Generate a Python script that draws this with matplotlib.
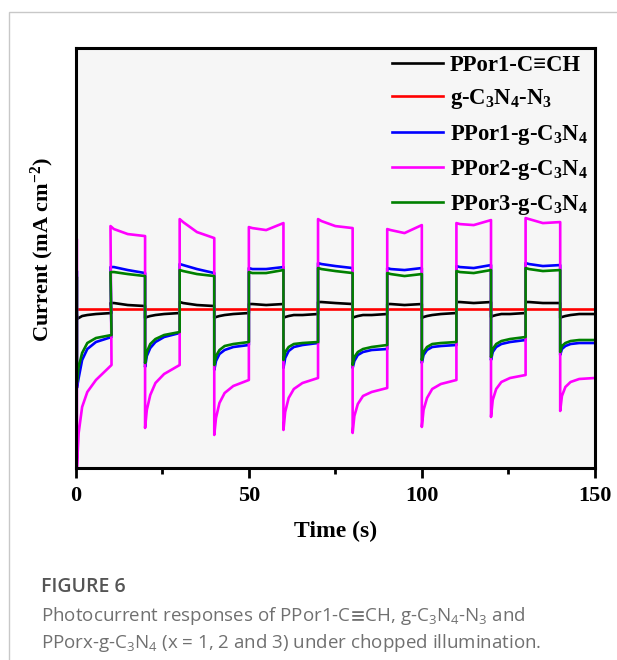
import matplotlib
matplotlib.use('Agg')
import matplotlib.pyplot as plt
from matplotlib.patches import Rectangle
from matplotlib.ticker import MultipleLocator

plt.rcParams['font.family'] = ['Liberation Serif', 'DejaVu Serif']
plt.rcParams['font.weight'] = 'bold'
plt.rcParams['mathtext.fontset'] = 'custom'
plt.rcParams['mathtext.rm'] = 'Liberation Serif:bold'
plt.rcParams['mathtext.it'] = 'Liberation Serif:bold'
plt.rcParams['mathtext.bf'] = 'Liberation Serif:bold'
plt.rcParams['mathtext.sf'] = 'Open Sans:weight=normal'
plt.rcParams['mathtext.fallback'] = 'stixsans'

# chopped light: dark periods start at off_starts, light periods at on_starts
off_starts = [0.3, 20, 40, 60, 80, 100, 120, 140]
on_starts = [10, 30, 50, 70, 90, 110, 130]
off_offsets = [0, 0.5, 1.5, 3, 5.5, 10]
on_offsets = [0, 1, 5, 10]

labels = ['PPor1-C≡CH', 'g-C$_3$N$_4$-N$_3$', 'PPor1-g-C$_3$N$_4$',
          'PPor2-g-C$_3$N$_4$', 'PPor3-g-C$_3$N$_4$']
colors = ['black', '#ff0000', '#0000ff', '#ff00ff', '#008000']

# PPor1-C≡CH
black_first = 1.52
black_off = [[1.49, 1.50, 1.52, 1.53, 1.54, 1.55],
             [1.50, 1.51, 1.52, 1.53, 1.54, 1.55],
             [1.50, 1.51, 1.52, 1.53, 1.54, 1.55],
             [1.50, 1.51, 1.52, 1.53, 1.53, 1.54],
             [1.50, 1.51, 1.52, 1.53, 1.53, 1.54],
             [1.50, 1.51, 1.52, 1.53, 1.54, 1.55],
             [1.51, 1.52, 1.53, 1.54, 1.54, 1.55],
             [1.50, 1.51, 1.52, 1.53, 1.54, 1.54]]
black_on = [[1.65, 1.65, 1.63, 1.62],
            [1.66, 1.65, 1.63, 1.62],
            [1.64, 1.64, 1.63, 1.64],
            [1.66, 1.66, 1.65, 1.64],
            [1.64, 1.64, 1.63, 1.64],
            [1.66, 1.66, 1.65, 1.66],
            [1.66, 1.66, 1.65, 1.65]]

# g-C3N4-N3
red_t = [0, 150]
red_y = [1.59, 1.59]

# PPor1-g-C3N4
blue_first = 1.96
blue_off = [[0.80, 0.90, 1.08, 1.19, 1.26, 1.31],
            [1.01, 1.12, 1.20, 1.26, 1.31, 1.35],
            [0.98, 1.07, 1.14, 1.18, 1.21, 1.23],
            [1.00, 1.10, 1.17, 1.21, 1.23, 1.25],
            [1.00, 1.07, 1.13, 1.16, 1.18, 1.19],
            [1.05, 1.13, 1.18, 1.21, 1.22, 1.23],
            [1.08, 1.16, 1.21, 1.24, 1.26, 1.28],
            [1.13, 1.19, 1.22, 1.24, 1.25, 1.25]]
blue_on = [[2.01, 2.01, 1.98, 1.95],
           [2.04, 2.03, 1.99, 1.95],
           [2.00, 1.99, 1.99, 2.01],
           [2.05, 2.04, 2.02, 2.00],
           [2.00, 1.99, 1.98, 2.00],
           [2.02, 2.01, 2.00, 2.03],
           [2.05, 2.04, 2.02, 2.03]]

# PPor2-g-C3N4
mag_first = 2.28
mag_off = [[0.01, 0.35, 0.61, 0.76, 0.88, 1.03],
           [0.40, 0.58, 0.73, 0.85, 0.94, 1.03],
           [0.33, 0.50, 0.65, 0.75, 0.82, 0.88],
           [0.38, 0.56, 0.70, 0.79, 0.85, 0.90],
           [0.35, 0.52, 0.64, 0.72, 0.76, 0.80],
           [0.41, 0.58, 0.70, 0.79, 0.84, 0.88],
           [0.51, 0.68, 0.79, 0.86, 0.90, 0.93],
           [0.57, 0.72, 0.81, 0.86, 0.89, 0.90]]
mag_on = [[2.42, 2.39, 2.34, 2.32],
          [2.49, 2.46, 2.36, 2.30],
          [2.41, 2.40, 2.38, 2.45],
          [2.49, 2.47, 2.42, 2.40],
          [2.39, 2.38, 2.35, 2.43],
          [2.45, 2.44, 2.43, 2.48],
          [2.50, 2.49, 2.45, 2.46]]

# PPor3-g-C3N4
green_first = 1.90
green_off = [[0.86, 1.01, 1.15, 1.25, 1.30, 1.33],
             [1.05, 1.16, 1.24, 1.29, 1.33, 1.36],
             [1.03, 1.12, 1.18, 1.22, 1.24, 1.26],
             [1.08, 1.16, 1.21, 1.24, 1.25, 1.26],
             [1.03, 1.11, 1.16, 1.19, 1.21, 1.23],
             [1.08, 1.16, 1.21, 1.24, 1.25, 1.26],
             [1.11, 1.19, 1.24, 1.27, 1.29, 1.31],
             [1.16, 1.22, 1.25, 1.27, 1.28, 1.28]]
green_on = [[1.96, 1.96, 1.94, 1.92],
            [1.98, 1.97, 1.94, 1.92],
            [1.96, 1.95, 1.95, 1.98],
            [2.00, 1.99, 1.97, 1.95],
            [1.95, 1.94, 1.92, 1.94],
            [1.97, 1.96, 1.95, 1.98],
            [2.00, 1.99, 1.97, 1.98]]


def build(first, off, on):
    # chain the read points of each dark / light period into one trace
    t, y = [off_starts[0]], [first]
    for i, s in enumerate(off_starts):
        t += [s + o for o in off_offsets]
        y += off[i]
        if i < len(on_starts):
            t += [on_starts[i] + o for o in on_offsets]
            y += on[i]
    return t, y


traces = [build(black_first, black_off, black_on),
          (red_t, red_y),
          build(blue_first, blue_off, blue_on),
          build(mag_first, mag_off, mag_on),
          build(green_first, green_off, green_on)]

fig = plt.figure(figsize=(6.17, 6.60), dpi=100)
ax = fig.add_axes([0.123, 0.291, 0.841, 0.636])
ax.set_facecolor('#f6f6f6')

for (t, y), lab, c in zip(traces, labels, colors):
    ax.plot(t, y, color=c, lw=1.9, label=lab)

ax.set_xlim(0, 150)
ax.set_ylim(0, 4.2)
ax.set_yticks([])
ax.xaxis.set_major_locator(MultipleLocator(50))
ax.xaxis.set_minor_locator(MultipleLocator(25))
ax.tick_params(axis='x', which='major', direction='out', length=7, width=2,
               labelsize=16, pad=6)
ax.tick_params(axis='x', which='minor', direction='out', length=4, width=2)
for sp in ax.spines.values():
    sp.set_linewidth(2.2)

ax.set_xlabel('Time (s)', fontsize=17, fontweight='bold', labelpad=11)
ax.set_ylabel('Current (mA cm$^{-2}$)', fontsize=16, fontweight='bold')
ax.yaxis.set_label_coords(-0.038, 0.52)

ax.legend(loc='upper right', frameon=False, fontsize=16.3, handlelength=2.25,
          handletextpad=0.3, labelspacing=0.5, borderaxespad=0.0,
          borderpad=0.3)

# outer frame of the figure panel
fig.patches.append(Rectangle((9 / 617, -0.1), 1.2, 1.1 - 12 / 660,
                             transform=fig.transFigure, fill=False,
                             edgecolor='#c8c8c8', lw=1))

cap_font = ['Open Sans', 'DejaVu Sans']
fig.text(41 / 617, 1 - 587 / 660, 'FIGURE 6', fontfamily=cap_font,
         fontweight='semibold', fontsize=14, color='#555555', va='center')
fig.text(41 / 617, 1 - 616 / 660,
         'Photocurrent responses of PPor1-C$\\mathsf{\\!{\\equiv}\\!}$CH, '
         'g-C$\\mathsf{_3}$N$\\mathsf{_4}$-N$\\mathsf{_3}$ and',
         fontfamily=cap_font, fontweight='normal', fontsize=13.5,
         color='#707070', va='center')
fig.text(41 / 617, 1 - 643 / 660,
         'PPorx-g-C$\\mathsf{_3}$N$\\mathsf{_4}$ (x = 1, 2 and 3) under chopped illumination.',
         fontfamily=cap_font, fontweight='normal', fontsize=13.5,
         color='#707070', va='center')

fig.savefig('out.png', dpi=100)
